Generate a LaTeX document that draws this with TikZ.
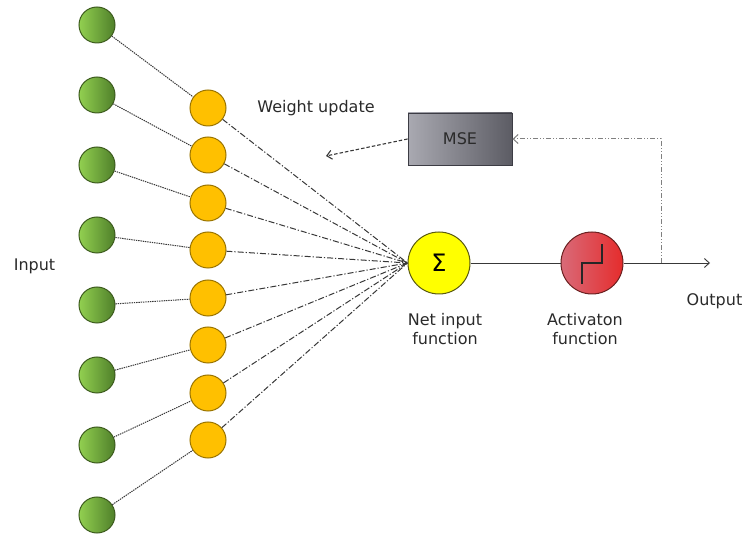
\documentclass[tikz,border=0pt]{standalone}
\usepackage{fontspec}
\setmainfont{DejaVu Sans}
\usetikzlibrary{arrows.meta}
\definecolor{gleft}{HTML}{92D050}
\definecolor{gright}{HTML}{4F7F2A}
\definecolor{gborder}{HTML}{3D5C1E}
\definecolor{oran}{HTML}{FFC000}
\definecolor{oborder}{HTML}{9A7400}
\definecolor{yel}{HTML}{FFFF00}
\definecolor{yborder}{HTML}{5A5A10}
\definecolor{rleft}{HTML}{D96A78}
\definecolor{rright}{HTML}{E52C2C}
\definecolor{rborder}{HTML}{6A2020}
\definecolor{mleft}{HTML}{A9A9B1}
\definecolor{mright}{HTML}{5C5C64}
\definecolor{mborder}{HTML}{3C3C44}
\definecolor{lncol}{HTML}{383838}
\definecolor{txtcol}{HTML}{2A2A2A}
\tikzset{
  inpnode/.style={circle,minimum size=36pt,inner sep=0pt,draw=gborder,line width=1pt,left color=gleft,right color=gright},
  wtnode/.style={circle,minimum size=36pt,inner sep=0pt,draw=oborder,line width=1pt,fill=oran},
  sumnode/.style={circle,minimum size=62pt,inner sep=0pt,draw=yborder,line width=1pt,fill=yel},
  actnode/.style={circle,minimum size=62pt,inner sep=0pt,draw=rborder,line width=1pt,left color=rleft,right color=rright},
  msebox/.style={rectangle,minimum width=104pt,minimum height=52pt,inner sep=0pt,draw=mborder,line width=0.9pt,left color=mleft,right color=mright},
  lbl/.style={font=\fontsize{16}{19}\selectfont,text=txtcol,align=center},
  dotline/.style={draw=lncol,line width=1pt,dash pattern=on 1.4pt off 0.9pt},
  dashdotline/.style={draw=lncol,line width=1pt,dash pattern=on 6pt off 2pt on 1.2pt off 2pt},
  fbline/.style={draw=gray,line width=1pt,dash pattern=on 5pt off 2pt on 1pt off 2pt on 1pt off 2pt},
  wuline/.style={draw=lncol,line width=1.1pt,dash pattern=on 3.5pt off 2pt},
  solidline/.style={draw=lncol,line width=0.9pt},
  opentip/.style={-{Straight Barb[length=5pt,width=9pt]}},
  steplinestyle/.style={draw=black!85,line width=1.8pt}
}
\begin{document}
\begin{tikzpicture}[x=1pt,y=-1pt]
\useasboundingbox (0,0) rectangle (745,537);
% input nodes
\node[inpnode] (g1) at (97,25) {};
\node[inpnode] (g2) at (97,95) {};
\node[inpnode] (g3) at (97,165) {};
\node[inpnode] (g4) at (97,235) {};
\node[inpnode] (g5) at (97,305) {};
\node[inpnode] (g6) at (97,375) {};
\node[inpnode] (g7) at (97,445) {};
\node[inpnode] (g8) at (97,515) {};
% weight nodes
\node[wtnode] (w1) at (208,108) {};
\node[wtnode] (w2) at (208,155) {};
\node[wtnode] (w3) at (208,203) {};
\node[wtnode] (w4) at (208,250) {};
\node[wtnode] (w5) at (208,298) {};
\node[wtnode] (w6) at (208,345) {};
\node[wtnode] (w7) at (208,393) {};
\node[wtnode] (w8) at (208,440) {};
% sum and activation
\node[sumnode] (s) at (439,263) {\fontsize{24}{24}\selectfont Σ};
\node[actnode] (a) at (592,263) {};
\draw[steplinestyle] ([shift={(-10,21)}]a.center) -- ([shift={(-10,0)}]a.center) -- ([shift={(10,0)}]a.center) -- ([shift={(10,-19)}]a.center);
% MSE
\node[msebox] (mse) at (460,139) {\fontsize{16}{16}\selectfont\color{txtcol}MSE};
% labels
\node[lbl] (tin) at (34.5,266) {Input};
\node[lbl] (tout) at (714.5,301) {Output};
\node[lbl] (tnet) at (445,329) {Net input\\function};
\node[lbl] (tact) at (585,329) {Activaton\\function};
\node[lbl] (twu) at (316,108) {Weight update};
% connectors green -> orange -> sum
\foreach \i in {1,...,8} {
  \draw[dotline] (g\i) -- (w\i);
  \draw[dashdotline] (w\i) -- (s.west);
}
% main path
\coordinate (fb) at (661,263);
\coordinate (out) at (710,263);
\coordinate (wu) at (326,156);
\draw[solidline] (s) -- (a);
\draw[solidline,opentip] (a) -- (out);
\draw[fbline,opentip] (fb) |- (mse.east);
\draw[wuline,opentip] (mse.west) -- (wu);
\end{tikzpicture}
\end{document}
